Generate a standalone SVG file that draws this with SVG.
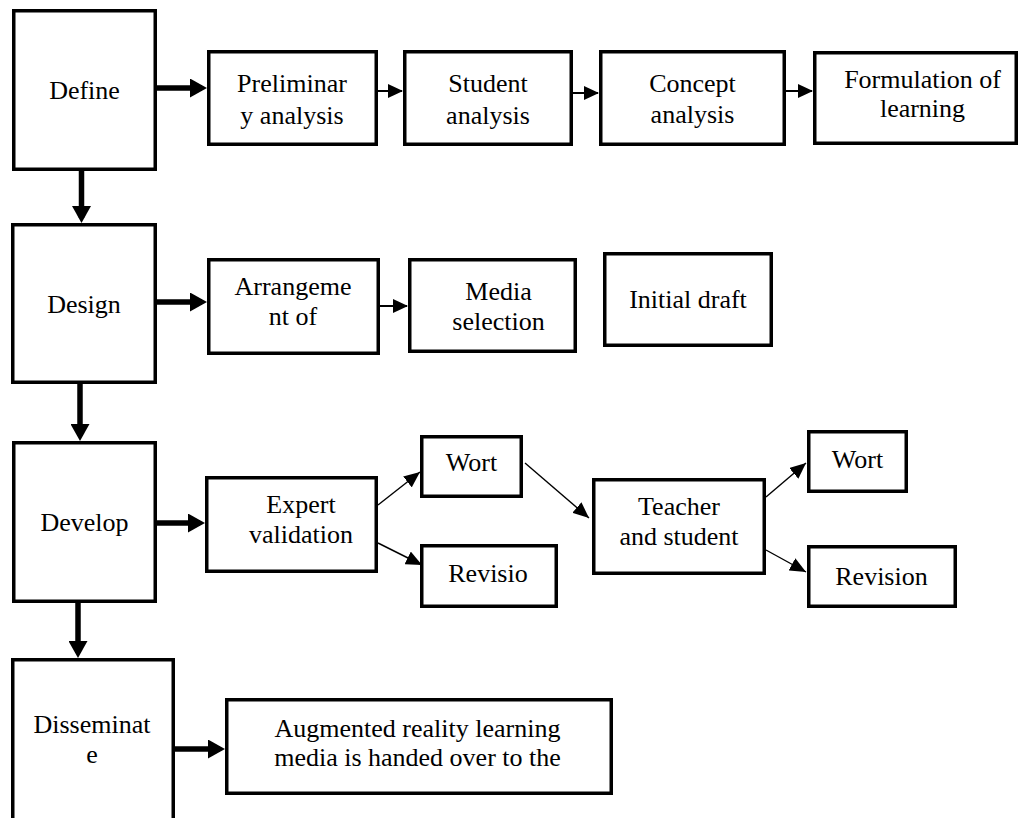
<svg xmlns="http://www.w3.org/2000/svg" width="1020" height="818" viewBox="0 0 1020 818" font-family="'Liberation Serif', 'Times New Roman', Times, serif">
<style>
.box{fill:#fff;stroke:#000;stroke-width:3.5}
text{font-family:'Liberation Serif','Times New Roman',Times,serif;font-size:26px;fill:#000;text-anchor:middle}
.thick{stroke:#000;stroke-width:5.5;fill:none}
.thin{stroke:#000;stroke-width:2;fill:none}
.diag{stroke:#000;stroke-width:1.4;fill:none}
</style>
<defs>
<marker id="ah" markerUnits="userSpaceOnUse" markerWidth="17" markerHeight="19" refX="12" refY="9.5" orient="auto">
<path d="M0,0 L17,9.5 L0,19 Z" fill="#000"/>
</marker>
<marker id="as" markerUnits="userSpaceOnUse" markerWidth="15" markerHeight="14" refX="14" refY="7" orient="auto">
<path d="M0,0 L15,7 L0,14 Z" fill="#000"/>
</marker>
<marker id="ad" markerUnits="userSpaceOnUse" markerWidth="16" markerHeight="14" refX="16" refY="7" orient="auto">
<path d="M0,0 L16,7 L0,14 Z" fill="#000"/>
</marker>
</defs>
<g id="connectors">
<line class="thick" x1="157" y1="88" x2="202" y2="88" marker-end="url(#ah)"/>
<line class="thin" x1="378" y1="91" x2="402" y2="91" marker-end="url(#as)"/>
<line class="thin" x1="573" y1="93" x2="598" y2="93" marker-end="url(#as)"/>
<line class="thin" x1="786" y1="91" x2="812" y2="91" marker-end="url(#as)"/>
<line class="thick" x1="81.5" y1="171" x2="81.5" y2="218" marker-end="url(#ah)"/>
<line class="thick" x1="157" y1="302" x2="202" y2="302" marker-end="url(#ah)"/>
<line class="thin" x1="380" y1="306" x2="407" y2="306" marker-end="url(#as)"/>
<line class="thick" x1="80" y1="384" x2="80" y2="436" marker-end="url(#ah)"/>
<line class="thick" x1="157" y1="523" x2="200" y2="523" marker-end="url(#ah)"/>
<line class="diag" x1="378" y1="505" x2="420" y2="472" marker-end="url(#ad)"/>
<line class="diag" x1="378" y1="543" x2="422" y2="565" marker-end="url(#ad)"/>
<line class="diag" x1="525" y1="463" x2="589" y2="518" marker-end="url(#ad)"/>
<line class="diag" x1="766" y1="497" x2="806" y2="463" marker-end="url(#ad)"/>
<line class="diag" x1="766" y1="550" x2="806" y2="572" marker-end="url(#ad)"/>
<line class="thick" x1="78" y1="603" x2="78" y2="653" marker-end="url(#ah)"/>
<line class="thick" x1="175" y1="749" x2="220" y2="749" marker-end="url(#ah)"/>
</g>
<g id="define"><rect class="box" x="13.75" y="10.75" width="141.5" height="158.5"/><text x="84.5" y="99">Define</text></g>
<g id="preliminary"><rect class="box" x="208.75" y="51.75" width="167.5" height="92.5"/><text x="292" y="92">Preliminar</text><text x="292" y="124">y analysis</text></g>
<g id="student"><rect class="box" x="404.75" y="51.75" width="166.5" height="92.5"/><text x="488" y="92">Student</text><text x="488" y="124">analysis</text></g>
<g id="concept"><rect class="box" x="600.75" y="51.75" width="183.5" height="92.5"/><text x="692.5" y="92">Concept</text><text x="692.5" y="123">analysis</text></g>
<g id="formulation"><rect class="box" x="814.75" y="52.75" width="201.5" height="90.5"/><text x="922.5" y="88">Formulation of</text><text x="922.5" y="117">learning</text></g>
<g id="design"><rect class="box" x="12.75" y="224.75" width="142.5" height="157.5"/><text x="84" y="313">Design</text></g>
<g id="arrangement"><rect class="box" x="208.75" y="259.75" width="169.5" height="93.5"/><text x="293" y="295">Arrangeme</text><text x="293" y="325">nt of</text></g>
<g id="media"><rect class="box" x="409.75" y="259.75" width="165.5" height="91.5"/><text x="498.5" y="300">Media</text><text x="498.5" y="330">selection</text></g>
<g id="initial-draft"><rect class="box" x="604.75" y="253.75" width="166.5" height="91.5"/><text x="688" y="308">Initial draft</text></g>
<g id="develop"><rect class="box" x="13.75" y="442.75" width="141.5" height="158.5"/><text x="84.5" y="531">Develop</text></g>
<g id="expert"><rect class="box" x="206.75" y="477.75" width="169.5" height="93.5"/><text x="301" y="513">Expert</text><text x="301" y="543">validation</text></g>
<g id="worthy1"><rect class="box" x="421.75" y="436.75" width="99.5" height="59.5"/><text x="471.5" y="471">Wort</text></g>
<g id="revision1"><rect class="box" x="421.75" y="545.75" width="134.5" height="60.5"/><text x="488" y="582">Revisio</text></g>
<g id="teacher"><rect class="box" x="593.75" y="479.75" width="170.5" height="93.5"/><text x="679" y="515">Teacher</text><text x="679" y="545">and student</text></g>
<g id="worthy2"><rect class="box" x="808.75" y="431.75" width="97.5" height="59.5"/><text x="857.5" y="468">Wort</text></g>
<g id="revision2"><rect class="box" x="808.75" y="546.75" width="146.5" height="59.5"/><text x="881.5" y="585">Revision</text></g>
<g id="disseminate"><rect class="box" x="12.75" y="659.75" width="160.5" height="200"/><text x="92" y="733">Disseminat</text><text x="92" y="763">e</text></g>
<g id="augmented"><rect class="box" x="226.75" y="699.75" width="384.5" height="93.5"/><text x="417.5" y="737">Augmented reality learning</text><text x="417.5" y="766">media is handed over to the</text></g>
</svg>
